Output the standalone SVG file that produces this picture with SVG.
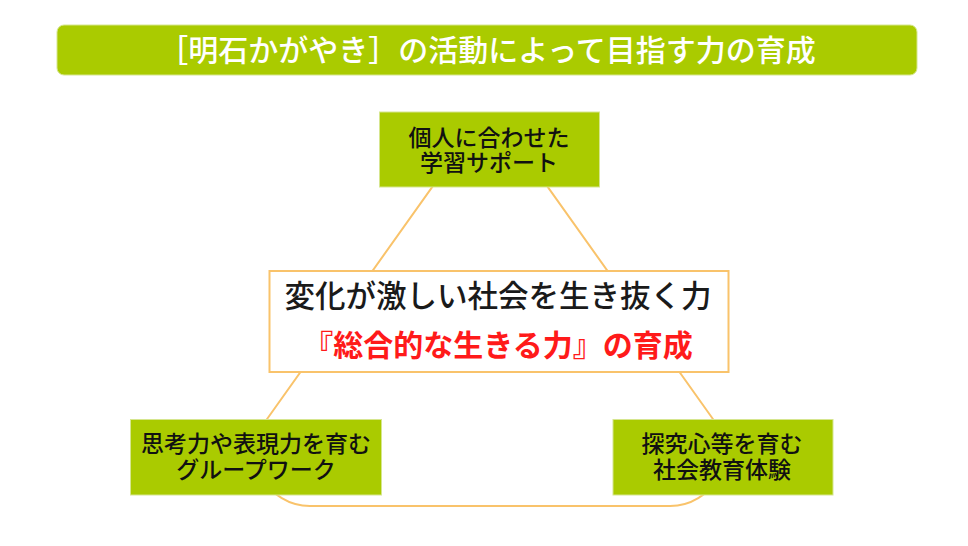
<svg xmlns="http://www.w3.org/2000/svg" width="968" height="546" viewBox="0 0 968 546">
<style>
text{font-family:"Noto Sans CJK JP","Noto Sans CJK SC",sans-serif;text-anchor:middle}
.box{fill:#AACB00;stroke:#D6E68F;stroke-width:1}
.lbl{font-size:23px;fill:#111;font-weight:500}
.title{font-size:30px;fill:#fff;font-weight:500}
.conn{fill:none;stroke:#F9C36B;stroke-width:2}
</style>
<rect width="968" height="546" fill="#fff"/>
<g id="connectors">
<path class="conn" d="M446 167.6 L266 420.5 A54 54 0 0 0 310 506 L670 506 A54 54 0 0 0 714 420.5 L534 167.6 A54 54 0 0 0 446 167.6 Z"/>
</g>
<g id="title">
<rect x="57" y="25" width="860" height="50" rx="7" class="box"/>
<text x="487" y="61" class="title">［明石かがやき］の活動によって目指す力の育成</text>
</g>
<g id="top-node">
<rect x="379.5" y="112" width="220" height="75" class="box"/>
<text class="lbl"><tspan x="489" y="146">個人に合わせた</tspan><tspan x="489" y="171">学習サポート</tspan></text>
</g>
<g id="center-node">
<rect x="269.5" y="271" width="459" height="101" fill="#fff" stroke="#F9C36B" stroke-width="2"/>
<text x="498" y="307" font-size="30.5" fill="#1a1a1a" font-weight="500">変化が激しい社会を生き抜く力</text>
<text x="498" y="356" font-size="30" fill="#FF1A1A" font-weight="bold">『総合的な生きる力』の育成</text>
</g>
<g id="left-node">
<rect x="130.5" y="419.5" width="251" height="75.5" class="box"/>
<text class="lbl"><tspan x="256" y="452">思考力や表現力を育む</tspan><tspan x="256" y="478">グループワーク</tspan></text>
</g>
<g id="right-node">
<rect x="613" y="419.5" width="220" height="75.5" class="box"/>
<text class="lbl"><tspan x="722" y="452">探究心等を育む</tspan><tspan x="722" y="478">社会教育体験</tspan></text>
</g>
</svg>
